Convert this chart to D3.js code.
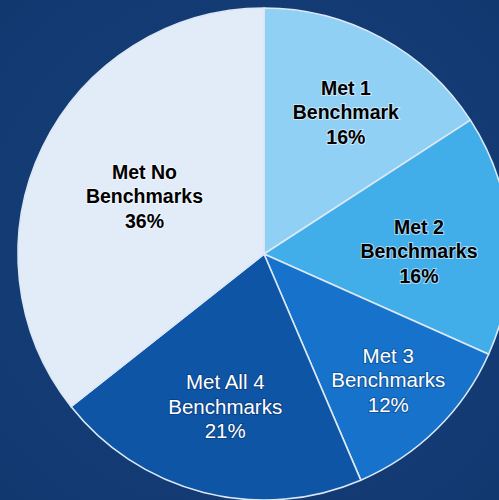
<!DOCTYPE html>
<html>
<head>
<meta charset="utf-8">
<script src="https://cdn.jsdelivr.net/npm/d3@7"></script>
<style>
  html, body { margin: 0; padding: 0; background: #153d76; }
  svg { display: block; }
</style>
</head>
<body>
<svg id="chart" width="499" height="500"></svg>
<script>
// ---- data ----
const categories = ["Met 1 Benchmark", "Met 2 Benchmarks", "Met 3 Benchmarks", "Met All 4 Benchmarks", "Met No Benchmarks"];
const labelLines = [["Met 1", "Benchmark"], ["Met 2", "Benchmarks"], ["Met 3", "Benchmarks"], ["Met All 4", "Benchmarks"], ["Met No", "Benchmarks"]];
const values = [16, 16, 12, 21, 36];

// ---- styling / layout ----
const colors = ["#8fd0f4", "#41aeea", "#1672cb", "#0e55a6", "#e1ecf8"];
const textColors = ["#000", "#000", "#fff", "#fff", "#000"];
const textWeights = ["bold", "bold", "normal", "normal", "bold"];
const labelRadiusFrac = [0.665, 0.63, 0.72, 0.64, 0.54];
const labelAngleShiftDeg = [1.5, 3.4, 0, 0, 0];

const W = 499, H = 500;
const cx = 264, cy = 254, R = 246;

const svg = d3.select("#chart");
const defs = svg.append("defs");
const bg = defs.append("radialGradient").attr("id", "bg").attr("cx", "50%").attr("cy", "50%").attr("r", "70%");
bg.append("stop").attr("offset", "0%").attr("stop-color", "#17427c");
bg.append("stop").attr("offset", "100%").attr("stop-color", "#123870");
svg.append("rect").attr("width", W).attr("height", H).attr("fill", "url(#bg)");

const g = svg.append("g").attr("transform", `translate(${cx},${cy})`);

const pie = d3.pie().sort(null).value(d => d)(values);
const arc = d3.arc().innerRadius(0).outerRadius(R);

g.selectAll("path.slice").data(pie).enter().append("path")
  .attr("class", "slice")
  .attr("d", arc)
  .attr("fill", (d, i) => colors[i])
  .attr("stroke", "#dce8f5")
  .attr("stroke-width", 1.6)
  .attr("stroke-linejoin", "round");

const lineH = 24.5;
pie.forEach((d, i) => {
  const lr = R * labelRadiusFrac[i];
  const shift = labelAngleShiftDeg[i] * Math.PI / 180;
  const c = d3.arc().innerRadius(lr).outerRadius(lr)
    .centroid({ startAngle: d.startAngle + shift, endAngle: d.endAngle + shift });
  const lines = labelLines[i].concat([values[i] + "%"]);
  const isWhite = textColors[i] === "#fff";
  const t = g.append("text")
    .attr("x", c[0])
    .attr("y", c[1])
    .attr("text-anchor", "middle")
    .attr("font-family", "'Liberation Sans', Arial, sans-serif")
    .attr("font-size", isWhite ? 20.5 : 19.5)
    .attr("font-weight", textWeights[i])
    .attr("fill", textColors[i])
    .attr("stroke", isWhite ? "rgba(10,30,70,0.35)" : "rgba(255,255,255,0.55)")
    .attr("stroke-width", 2)
    .attr("paint-order", "stroke");
  lines.forEach((ln, k) => {
    t.append("tspan")
      .attr("x", c[0])
      .attr("y", c[1] + (k - 1) * lineH + 7)
      .text(ln);
  });
});
</script>
</body>
</html>
